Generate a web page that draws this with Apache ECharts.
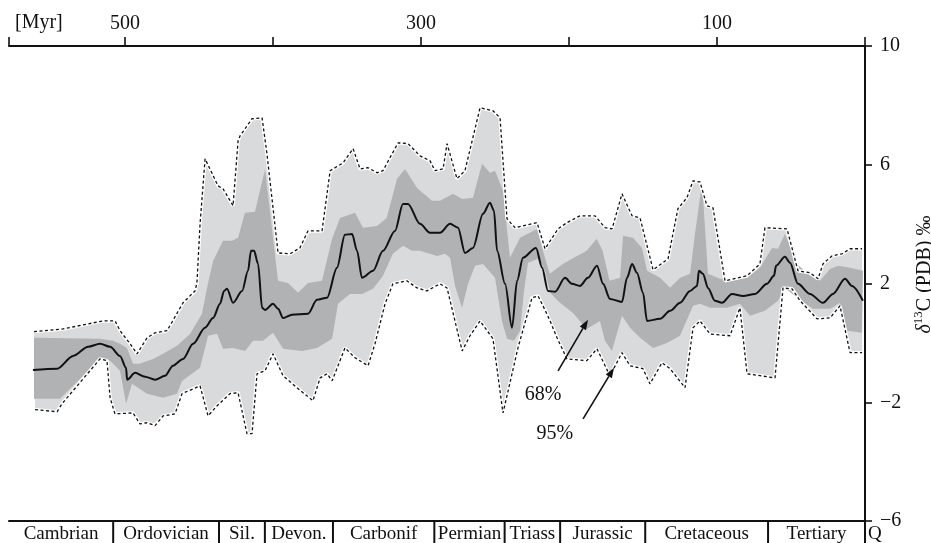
<!DOCTYPE html>
<html>
<head>
<meta charset="utf-8">
<script src="https://cdn.jsdelivr.net/npm/echarts@6/dist/echarts.min.js"></script>
<style>
  html, body { margin: 0; padding: 0; background: #fff; }
  #chart { width: 931px; height: 543px; }
</style>
</head>
<body>
<div id="chart"></div>
<script>
// Phanerozoic carbonate δ13C: running mean with 68 % and 95 % bands.
// Each point is [age in Myr before present, δ13C in ‰ PDB].

const upper95 = [[561.5,0.38],[541.9,0.47],[514.9,0.74],[506.7,0.74],[503.4,0.41],[496.6,-0.03],[491.9,-0.37],[485.1,0.17],[479.7,0.34],[471.6,0.41],[460.8,1.35],[452.7,1.75],[451.4,2.02],[449.3,4.01],[445.9,6.20],[437.2,5.29],[433.8,5.19],[427.0,4.62],[423.6,6.81],[422.3,6.97],[414.2,7.55],[407.4,7.58],[404.1,6.37],[396.6,3.03],[388.5,3.00],[381.8,3.20],[376.4,3.77],[366.9,3.77],[361.4,5.80],[352.7,6.06],[345.9,6.54],[341.2,5.86],[335.8,5.90],[329.7,5.73],[325.7,5.80],[315.5,6.74],[308.8,6.71],[300.7,6.30],[293.9,6.13],[290.6,5.80],[285.1,5.86],[282.4,6.71],[275.7,5.53],[270.3,5.80],[260.1,7.92],[251.4,7.82],[246.6,7.58],[241.9,4.18],[236.5,3.88],[221.6,4.05],[216.2,3.17],[207.4,3.84],[201.4,4.05],[192.6,4.28],[182.4,4.28],[175.7,3.88],[170.9,3.84],[164.2,5.02],[157.4,4.28],[152.0,4.21],[143.2,2.46],[133.1,2.83],[126.4,4.52],[120.3,4.89],[116.2,5.46],[111.5,5.42],[106.8,4.62],[102.7,4.55],[94.6,2.09],[79.7,2.26],[71.0,2.66],[67.6,3.88],[52.7,3.84],[45.3,2.43],[37.2,2.36],[31.7,2.16],[28.4,2.66],[22.3,2.93],[15.5,3.00],[10.1,3.17],[2.0,3.17]];

const upper68 = [[561.5,0.17],[516.9,0.14],[508.1,0.07],[503.4,-0.03],[498.7,-0.17],[494.6,-0.70],[490.1,-0.70],[481.1,-0.54],[474.3,-0.37],[464.9,-0.10],[456.1,0.30],[448.0,0.98],[444.6,1.86],[440.5,2.76],[433.8,3.44],[427.7,3.44],[423.6,3.54],[419.0,4.38],[412.2,4.42],[405.4,5.86],[396.6,2.09],[389.9,2.02],[383.1,1.69],[376.4,2.02],[366.9,2.09],[360.1,3.51],[354.7,4.21],[344.6,4.38],[339.2,3.88],[329.7,3.94],[323.2,4.21],[316.2,5.53],[310.8,5.86],[302.7,5.22],[292.6,4.79],[287.2,4.79],[278.4,5.02],[272.2,4.85],[264.9,4.89],[258.8,6.03],[253.4,5.73],[250.0,5.80],[244.6,5.12],[239.9,2.87],[233.1,3.54],[221.6,3.84],[218.2,3.20],[213.0,2.33],[204.2,2.66],[194.6,2.93],[188.0,3.10],[181.3,3.51],[177.3,3.10],[172.6,2.09],[165.5,2.19],[163.5,3.61],[156.8,3.54],[150.7,3.20],[147.3,2.43],[138.5,2.19],[131.7,1.86],[124.9,2.19],[118.2,2.33],[114.9,3.67],[110.1,5.39],[106.1,2.33],[98.0,2.16],[89.9,2.09],[79.7,2.19],[71.0,2.53],[62.8,3.20],[58.8,3.17],[54.1,3.67],[45.9,2.66],[37.2,2.26],[30.4,2.09],[23.6,2.49],[18.2,2.60],[10.1,2.53],[1.4,2.43]];

const meanCurve = [[562.2,-0.91],[545.9,-0.87],[535.1,-0.44],[524.9,-0.13],[516.9,-0.03],[510.1,-0.13],[503.4,-0.44],[499.3,-0.84],[498.6,-1.24],[493.2,-1.01],[486.5,-1.14],[479.7,-1.24],[473.0,-1.11],[467.6,-0.77],[460.8,-0.54],[454.0,-0.03],[445.9,0.51],[440.5,0.84],[435.8,1.32],[433.1,1.75],[431.1,1.82],[427.0,1.35],[420.9,1.75],[416.9,2.43],[414.9,3.10],[412.8,3.10],[410.1,2.66],[407.4,1.18],[405.4,1.11],[400.0,1.32],[396.6,1.15],[393.2,0.84],[387.2,0.95],[376.4,0.98],[370.3,1.45],[363.5,1.52],[356.8,2.53],[351.4,3.64],[346.6,3.67],[343.2,3.10],[339.9,2.19],[332.4,2.43],[325.7,3.10],[317.6,3.77],[312.2,4.68],[308.8,4.68],[300.7,4.01],[293.9,3.71],[287.2,3.71],[280.4,4.01],[275.0,3.88],[270.3,3.03],[264.9,3.20],[258.1,4.35],[253.4,4.72],[250.7,4.45],[248.6,3.10],[243.2,1.99],[238.5,0.51],[235.1,2.09],[231.1,2.87],[222.3,3.20],[218.2,2.53],[214.2,1.75],[209.5,1.72],[202.7,2.19],[198.0,1.99],[192.6,1.92],[187.2,2.19],[181.1,2.60],[177.0,1.99],[172.3,1.48],[164.2,1.38],[160.8,2.19],[157.4,2.66],[154.1,2.36],[150.0,1.69],[147.3,0.74],[138.5,0.81],[131.7,1.08],[124.9,1.35],[118.2,1.75],[113.5,1.92],[112.2,2.43],[109.5,2.33],[106.1,1.85],[101.4,1.42],[96.6,1.35],[89.9,1.65],[82.4,1.58],[74.3,1.65],[66.2,1.99],[61.5,2.26],[60.1,2.60],[54.1,2.90],[50.7,2.70],[45.3,1.99],[37.2,1.65],[28.4,1.35],[21.6,1.65],[13.5,2.16],[8.8,1.92],[1.4,1.42]];

const lower68 = [[561.5,-1.88],[543.9,-1.88],[516.9,-0.54],[510.1,-0.60],[503.4,-0.94],[499.3,-2.05],[495.3,-1.38],[485.1,-1.71],[474.3,-1.85],[464.9,-1.71],[461.5,-1.28],[449.3,-0.84],[443.9,0.24],[437.8,0.31],[433.8,-0.20],[427.0,-0.17],[418.9,-0.27],[413.5,0.07],[406.8,0.07],[400.0,0.34],[393.2,-0.20],[380.4,-0.27],[370.3,-0.17],[360.1,0.14],[356.1,1.32],[348.0,1.65],[339.9,1.65],[332.4,1.82],[325.7,2.26],[319.0,3.00],[312.2,3.27],[306.1,3.10],[300.7,3.10],[289.2,2.93],[283.8,3.00],[280.4,2.87],[277.0,1.92],[272.3,1.18],[268.2,1.99],[263.5,2.60],[258.1,2.66],[250.0,2.19],[245.3,0.74],[241.9,0.14],[237.2,0.07],[233.1,0.41],[230.4,1.75],[227.7,2.70],[221.0,2.83],[216.2,2.43],[212.8,1.69],[206.1,1.35],[197.3,1.01],[188.0,0.47],[179.1,0.74],[175.7,0.07],[171.0,-0.27],[164.2,0.91],[158.8,0.51],[152.0,0.17],[143.2,-0.17],[133.8,0.00],[125.0,0.24],[116.2,1.25],[111.5,1.32],[104.7,1.18],[93.2,1.18],[84.5,1.32],[77.7,0.91],[67.6,1.08],[58.8,1.42],[54.1,1.85],[45.9,1.52],[35.1,1.15],[23.6,1.15],[16.9,1.35],[12.2,0.41],[2.0,0.34]];

const lower95 = [[560.8,-2.25],[545.9,-2.32],[542.6,-2.05],[516.9,-0.54],[512.2,-0.60],[510.1,-1.85],[506.8,-2.39],[494.6,-2.36],[489.9,-2.73],[485.1,-2.69],[479.7,-2.79],[474.3,-2.46],[466.2,-2.39],[461.5,-1.71],[449.3,-1.45],[443.9,-2.46],[437.8,-2.12],[429.1,-1.71],[423.6,-1.68],[417.6,-3.06],[414.2,-3.06],[410.8,-1.04],[405.4,-0.94],[400.0,-0.37],[393.2,-1.11],[383.8,-1.51],[373.0,-1.95],[368.2,-1.18],[363.5,-1.04],[360.1,-1.28],[351.4,-0.17],[344.6,-0.50],[335.8,-0.77],[331.1,-0.03],[324.3,1.32],[319.0,1.99],[309.5,2.09],[302.7,1.85],[296.0,1.75],[287.2,1.99],[282.4,1.85],[272.2,-0.27],[266.9,0.24],[260.1,0.74],[251.4,0.14],[244.6,-2.36],[234.5,-0.17],[225.0,1.52],[220.9,1.58],[217.6,1.25],[212.8,0.74],[208.1,0.17],[201.4,-0.54],[188.0,-0.60],[181.1,-0.20],[172.3,-1.11],[164.2,-0.33],[158.8,-0.77],[150.0,-0.87],[145.3,-1.38],[137.2,-0.67],[131.7,-0.87],[121.6,-1.51],[116.2,0.51],[111.5,0.74],[104.7,0.30],[91.2,0.24],[84.5,1.18],[79.7,-1.04],[60.8,-1.18],[55.4,1.85],[49.3,1.82],[43.9,1.42],[32.4,0.81],[23.6,0.84],[16.9,1.25],[10.1,-0.33],[2.0,-0.33]];

// Time scale: period names and their boundaries (Myr); Q follows the last boundary.
const periodNames = ['Cambrian','Ordovician','Sil.','Devon.','Carbonif','Permian','Triass','Jurassic','Cretaceous','Tertiary','Q'];
const periodBounds = [578.4, 508, 436.5, 405.5, 359.5, 291, 243.5, 206, 148.5, 65.5, 0];

// Axis ranges and ticks
const ageRange = [0, 578.4];
const ageTickStep = 100;
const ageLabels = [500, 300, 100];
const deltaRange = [-6, 10];
const deltaTickStep = 4;

// Band labels: [text, text age, text δ, arrow from age, from δ, to age, to δ]
const bandNotes = [
  ['68%', 217.6, -1.75, 207.4, -0.94, 187.2, 0.78],
  ['95%', 209.5, -3.06, 190.5, -2.56, 169.6, -0.84]
];

const SERIF = '"Liberation Serif", "DejaVu Serif", serif';
const INK = '#111';
const LIGHT = '#d9dadc';
const DARK = '#b1b2b4';

function bandPolygon(top, bottom, color, z) {
  return {
    type: 'custom',
    coordinateSystem: 'cartesian2d',
    silent: true,
    z: z,
    data: [[top[0][0], top[0][1]]],
    renderItem: function (params, api) {
      const pts = top.map(p => api.coord(p))
        .concat(bottom.slice().reverse().map(p => api.coord(p)));
      return { type: 'polygon', shape: { points: pts }, style: { fill: color, stroke: null } };
    }
  };
}

function plainLine(data, style, z) {
  return {
    type: 'line', data: data, showSymbol: false, silent: true, z: z,
    lineStyle: style, animation: false
  };
}

const chart = echarts.init(document.getElementById('chart'), null, { renderer: 'canvas' });

const option = {
  animation: false,
  backgroundColor: '#fff',
  grid: { left: 9, right: 66, top: 46, bottom: 22, containLabel: false, outerBoundsMode: 'none' },
  xAxis: [
    {
      type: 'value', position: 'top', inverse: true,
      min: ageRange[0], max: ageRange[1], interval: ageTickStep,
      splitLine: { show: false },
      axisLine: { show: true, onZero: false, lineStyle: { color: INK, width: 2 } },
      axisTick: { show: true, inside: false, length: 9, lineStyle: { color: INK, width: 1.6 } },
      axisLabel: {
        margin: 12, color: INK, fontFamily: SERIF, fontSize: 20,
        formatter: v => (ageLabels.indexOf(v) >= 0 ? String(v) : '')
      }
    },
    {
      type: 'value', position: 'bottom', inverse: true,
      min: ageRange[0], max: ageRange[1],
      splitLine: { show: false },
      axisLine: { show: true, onZero: false, lineStyle: { color: INK, width: 2 } },
      axisTick: { show: false },
      axisLabel: { show: false }
    }
  ],
  yAxis: {
    type: 'value', position: 'right',
    min: deltaRange[0], max: deltaRange[1], interval: deltaTickStep,
    splitLine: { show: false },
    axisLine: { show: true, onZero: false, lineStyle: { color: INK, width: 2 } },
    axisTick: { show: true, inside: false, length: 7, lineStyle: { color: INK, width: 1.6 } },
    axisLabel: {
      margin: 15, color: INK, fontFamily: SERIF, fontSize: 20,
      formatter: v => (v < 0 ? '\u2212' + Math.abs(v) : String(v))
    },
    name: '{d|δ}{s|13}{t|C (PDB) ‰}',
    nameLocation: 'middle',
    nameRotate: 90,
    nameGap: 45,
    nameTextStyle: {
      color: INK, fontFamily: SERIF, fontSize: 20,
      padding: [0, 0, 0, 18],
      rich: {
        d: { fontFamily: SERIF, fontSize: 20, fontStyle: 'italic', color: INK, lineHeight: 23, verticalAlign: 'bottom' },
        s: { fontFamily: SERIF, fontSize: 13, color: INK, lineHeight: 23, verticalAlign: 'top' },
        t: { fontFamily: SERIF, fontSize: 20, color: INK, lineHeight: 23, verticalAlign: 'bottom' }
      }
    }
  },
  graphic: [
    {
      type: 'text', x: 15, y: 23, silent: true,
      style: { text: '[Myr]', font: '20px ' + SERIF, fill: INK, verticalAlign: 'middle', align: 'left' }
    }
  ],
  series: [
    bandPolygon(upper95, lower95, LIGHT, 1),
    bandPolygon(upper68, lower68, DARK, 2),
    plainLine(upper95, { color: '#fff', width: 3.5, type: 'solid' }, 3),
    plainLine(lower95, { color: '#fff', width: 3.5, type: 'solid' }, 3),
    plainLine(upper95, { color: INK, width: 1.3, type: [3, 2.5] }, 4),
    plainLine(lower95, { color: INK, width: 1.3, type: [3, 2.5] }, 4),
    Object.assign(plainLine(meanCurve, { color: INK, width: 2 }, 5), { smooth: 0.3, smoothMonotone: 'x' }),
    {
      // geological time scale under the plot
      type: 'custom', coordinateSystem: 'cartesian2d', xAxisIndex: 0, yAxisIndex: 0,
      silent: true, z: 6, clip: false,
      data: periodNames.map((n, i) => [periodBounds[Math.min(i, periodBounds.length - 1)], deltaRange[0]]),
      renderItem: function (params, api) {
        const i = params.dataIndex;
        const base = api.coord([periodBounds[Math.min(i, periodBounds.length - 1)], deltaRange[0]]);
        const children = [];
        if (i > 0) {
          children.push({
            type: 'line',
            shape: { x1: base[0], y1: base[1], x2: base[0], y2: base[1] + 24 },
            style: { stroke: INK, lineWidth: 2 }
          });
        }
        let tx, align;
        if (i < periodBounds.length - 1) {
          const end = api.coord([periodBounds[i + 1], deltaRange[0]]);
          tx = (base[0] + end[0]) / 2; align = 'center';
        } else {
          tx = base[0] + 3; align = 'left';
        }
        children.push({
          type: 'text',
          style: { text: periodNames[i], x: tx, y: base[1] + 13, align: align, verticalAlign: 'middle',
                   font: '19px ' + SERIF, fill: INK }
        });
        return { type: 'group', children: children };
      }
    },
    {
      // arrows naming the confidence bands
      type: 'custom', coordinateSystem: 'cartesian2d', silent: true, z: 7, clip: false,
      data: bandNotes.map(a => [a[1], a[2]]),
      renderItem: function (params, api) {
        const a = bandNotes[params.dataIndex];
        const t = api.coord([a[1], a[2]]);
        const p0 = api.coord([a[3], a[4]]);
        const p1 = api.coord([a[5], a[6]]);
        const dx = p1[0] - p0[0], dy = p1[1] - p0[1];
        const len = Math.sqrt(dx * dx + dy * dy);
        const ux = dx / len, uy = dy / len;
        const head = 10, half = 3.6;
        const bx = p1[0] - ux * head, by = p1[1] - uy * head;
        return {
          type: 'group',
          children: [
            { type: 'line', shape: { x1: p0[0], y1: p0[1], x2: bx, y2: by }, style: { stroke: INK, lineWidth: 1.6 } },
            { type: 'polygon', shape: { points: [[p1[0], p1[1]], [bx - uy * half, by + ux * half], [bx + uy * half, by - ux * half]] },
              style: { fill: INK } },
            { type: 'text', style: { text: a[0], x: t[0], y: t[1], align: 'center', verticalAlign: 'middle',
                                     font: '20px ' + SERIF, fill: INK } }
          ]
        };
      }
    }
  ]
};

chart.setOption(option);
</script>
</body>
</html>
